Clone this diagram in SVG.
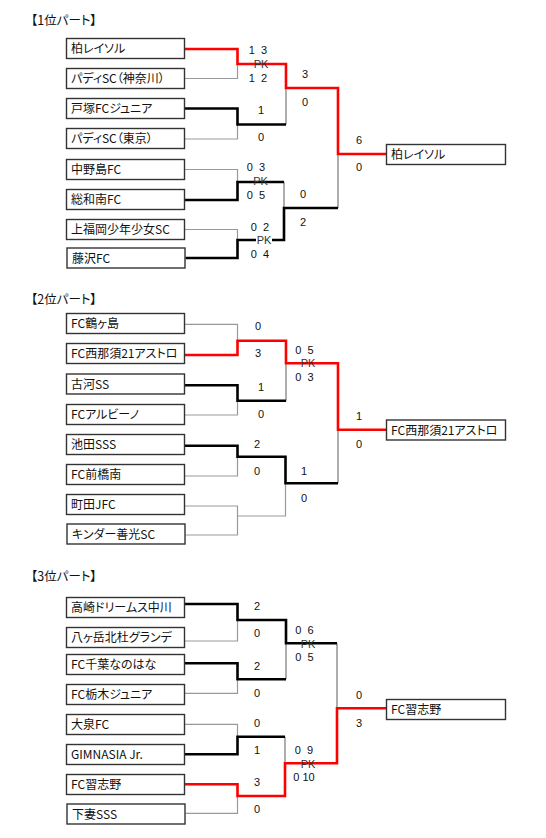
<svg xmlns="http://www.w3.org/2000/svg" width="546" height="838" viewBox="0 0 546 838">
<style>
text{font-family:"Noto Sans CJK JP","Noto Sans",sans-serif;font-feature-settings:"palt";fill:#111}
.t{font-size:12px}
.h{font-size:12.5px}
.s,.pk{font-family:"Liberation Sans",Arial,sans-serif;font-size:11px;text-anchor:middle}
.pk{fill:#333}
rect.b{fill:#fff;stroke:#333;stroke-width:1.4}
path{fill:none}
.r{stroke:#f00;stroke-width:2.6}
.k{stroke:#000;stroke-width:2.6}
.g{stroke:#999;stroke-width:1.2}
.g2{stroke:#777;stroke-width:1.2}
</style>
<rect width="546" height="838" fill="#fff"/>

<g id="connectors">
<!-- section 1 -->
<path class="g" d="M184,78.5H237.5V64"/>
<path class="g" d="M184,139H237.5V124.5"/>
<path class="g2" d="M286,124.5V88"/>
<path class="g" d="M184,169.5H237.5V182"/>
<path class="g" d="M184,229.5H237.5V240"/>
<path class="g2" d="M284,182V208"/>
<path class="g2" d="M338,208V154"/>
<path class="k" d="M184,108.5H237.5V124.5H286"/>
<path class="k" d="M184,200H237.5V182H284"/>
<path class="k" d="M185.5,258H237.5V240H284V208H338"/>
<path class="r" d="M184,49H237.5V64H286V88H338V154H386"/>
<!-- section 2 -->
<path class="g" d="M184,324.3H237.5V340.7"/>
<path class="g" d="M184,415H237.5V400.7"/>
<path class="g2" d="M286,400.7V363.3"/>
<path class="g" d="M184,476H237.5V456.7"/>
<path class="g" d="M184,506H237.5V516H285.5V483.3"/>
<path class="g" d="M185.5,535H237.5V516"/>
<path class="g2" d="M338,483.3V429.7"/>
<path class="k" d="M184,385.3H237.5V400.7H286"/>
<path class="k" d="M184,445.7H237.5V456.7H285.5V483.3H338"/>
<path class="r" d="M184,355H237.5V340.7H286V363.3H338V429.7H386"/>
<!-- section 3 -->
<path class="g" d="M184,641H237.5V620"/>
<path class="g" d="M184,693.3H237.5V679.3"/>
<path class="g2" d="M286,679.3V643.3"/>
<path class="g2" d="M337,643.3V708.3"/>
<path class="g" d="M184,724.3H237.5V736.7"/>
<path class="g2" d="M285,736.7V763.3"/>
<path class="g" d="M185.5,813.3H237.5V796"/>
<path class="k" d="M184,604H237.5V620H286V643.3H337"/>
<path class="k" d="M184,663.3H237.5V679.3H286"/>
<path class="k" d="M184,754.3H237.5V736.7H285"/>
<path class="r" d="M184,784.3H237.5V796H285V763.3H337V708.3H386"/>
</g>

<g id="titles">
<text class="h" x="31" y="25">【1位パート】</text>
<text class="h" x="31" y="304">【2位パート】</text>
<text class="h" x="31" y="581">【3位パート】</text>
</g>

<g id="section1-nodes">
<g id="n-kashiwa"><rect class="b" x="66.5" y="38.5" width="118" height="20"/><text class="t" x="71" y="53">柏レイソル</text></g>
<g id="n-buddy-kanagawa"><rect class="b" x="66.5" y="68.5" width="118" height="20"/><text class="t" x="71" y="83">パディSC（神奈川）</text></g>
<g id="n-totsuka"><rect class="b" x="66.5" y="98.5" width="118" height="20"/><text class="t" x="71" y="113">戸塚FCジュニア</text></g>
<g id="n-buddy-tokyo"><rect class="b" x="66.5" y="128.5" width="118" height="20"/><text class="t" x="71" y="143">パディSC（東京）</text></g>
<g id="n-nakanoshima"><rect class="b" x="66.5" y="159.5" width="118" height="20"/><text class="t" x="71" y="174">中野島FC</text></g>
<g id="n-sowaminami"><rect class="b" x="66.5" y="189.5" width="118" height="20"/><text class="t" x="71" y="204">総和南FC</text></g>
<g id="n-kamifukuoka"><rect class="b" x="66.5" y="219.5" width="118" height="20"/><text class="t" x="71" y="234">上福岡少年少女SC</text></g>
<g id="n-fujisawa"><rect class="b" x="67" y="248" width="118" height="20"/><text class="t" x="72" y="262.5">藤沢FC</text></g>
<g id="n-win1"><rect class="b" x="386.5" y="144.5" width="119" height="20"/><text class="t" x="391" y="159">柏レイソル</text></g>
</g>

<g id="section2-nodes">
<g id="n-tsurugashima"><rect class="b" x="66.5" y="313.5" width="118" height="20"/><text class="t" x="71" y="328">FC鶴ヶ島</text></g>
<g id="n-nishinasu"><rect class="b" x="66.5" y="343.5" width="118" height="20"/><text class="t" x="71" y="358">FC西那須21アストロ</text></g>
<g id="n-koga"><rect class="b" x="66.5" y="374" width="118" height="20"/><text class="t" x="71" y="388.5">古河SS</text></g>
<g id="n-albino"><rect class="b" x="66.5" y="404.5" width="118" height="20"/><text class="t" x="71" y="419">FCアルビーノ</text></g>
<g id="n-ikeda"><rect class="b" x="66.5" y="434.5" width="118" height="20"/><text class="t" x="71" y="449">池田SSS</text></g>
<g id="n-maebashi"><rect class="b" x="66.5" y="464.5" width="118" height="20"/><text class="t" x="71" y="479">FC前橋南</text></g>
<g id="n-machida"><rect class="b" x="66.5" y="494.5" width="118" height="20"/><text class="t" x="71" y="509">町田JFC</text></g>
<g id="n-kinder"><rect class="b" x="67" y="524" width="118" height="20"/><text class="t" x="72" y="538.5">キンダー善光SC</text></g>
<g id="n-win2"><rect class="b" x="386.5" y="420" width="119" height="20"/><text class="t" x="391" y="434.5">FC西那須21アストロ</text></g>
</g>

<g id="section3-nodes">
<g id="n-takasaki"><rect class="b" x="66.5" y="597.5" width="118" height="20"/><text class="t" x="71" y="612">高崎ドリームス中川</text></g>
<g id="n-yatsugatake"><rect class="b" x="66.5" y="627.5" width="118" height="20"/><text class="t" x="71" y="642">八ヶ岳北杜グランデ</text></g>
<g id="n-chiba"><rect class="b" x="66.5" y="654.5" width="118" height="20"/><text class="t" x="71" y="669">FC千葉なのはな</text></g>
<g id="n-tochigi"><rect class="b" x="66.5" y="684.5" width="118" height="20"/><text class="t" x="71" y="699">FC栃木ジュニア</text></g>
<g id="n-oizumi"><rect class="b" x="66.5" y="714.5" width="118" height="20"/><text class="t" x="71" y="729">大泉FC</text></g>
<g id="n-gimnasia"><rect class="b" x="66.5" y="744.5" width="118" height="20"/><text class="t" x="71" y="759">GIMNASIA Jr.</text></g>
<g id="n-narashino"><rect class="b" x="66.5" y="774.5" width="118" height="20"/><text class="t" x="71" y="789">FC習志野</text></g>
<g id="n-shimotsuma"><rect class="b" x="67" y="804" width="118" height="20"/><text class="t" x="72" y="818.5">下妻SSS</text></g>
<g id="n-win3"><rect class="b" x="386.5" y="699.5" width="119" height="20"/><text class="t" x="391" y="714">FC習志野</text></g>
</g>

<g id="scores">
<!-- section 1 -->
<text class="s" x="258" y="54" style="word-spacing:3px">1 3</text>
<text class="pk" x="261" y="68">PK</text>
<text class="s" x="258" y="82" style="word-spacing:3px">1 2</text>
<text class="s" x="261" y="114">1</text>
<text class="s" x="261" y="141">0</text>
<text class="s" x="305" y="78">3</text>
<text class="s" x="305" y="106">0</text>
<text class="s" x="359" y="144">6</text>
<text class="s" x="359" y="171">0</text>
<text class="s" x="256" y="170.5" style="word-spacing:3px">0 3</text>
<text class="pk" x="260.5" y="185">PK</text>
<text class="s" x="256" y="198.5" style="word-spacing:3px">0 5</text>
<text class="s" x="260" y="230.5" style="word-spacing:3px">0 2</text>
<rect x="256" y="235" width="16" height="10" fill="#fff"/>
<text class="pk" x="264" y="244">PK</text>
<text class="s" x="260" y="257.5" style="word-spacing:3px">0 4</text>
<text class="s" x="303" y="198">0</text>
<text class="s" x="303" y="226">2</text>
<!-- section 2 -->
<text class="s" x="258" y="330">0</text>
<text class="s" x="258" y="357">3</text>
<text class="s" x="261" y="391">1</text>
<text class="s" x="261" y="417.5">0</text>
<text class="s" x="304.5" y="353.5" style="word-spacing:3px">0 5</text>
<text class="pk" x="308" y="367">PK</text>
<text class="s" x="304.5" y="381" style="word-spacing:3px">0 3</text>
<text class="s" x="257" y="447.5">2</text>
<text class="s" x="257" y="475">0</text>
<text class="s" x="304" y="474.5">1</text>
<text class="s" x="304" y="501.5">0</text>
<text class="s" x="359" y="420">1</text>
<text class="s" x="359" y="447.5">0</text>
<!-- section 3 -->
<text class="s" x="257" y="610">2</text>
<text class="s" x="257" y="637">0</text>
<text class="s" x="257" y="670">2</text>
<text class="s" x="257" y="697">0</text>
<text class="s" x="304.5" y="633.5" style="word-spacing:3px">0 6</text>
<text class="pk" x="308" y="647.5">PK</text>
<text class="s" x="304.5" y="661" style="word-spacing:3px">0 5</text>
<text class="s" x="257" y="727">0</text>
<text class="s" x="257" y="754">1</text>
<text class="s" x="257" y="786">3</text>
<text class="s" x="257" y="813">0</text>
<text class="s" x="304" y="753.5" style="word-spacing:3px">0 9</text>
<text class="pk" x="308" y="767.5">PK</text>
<text class="s" x="304" y="781">0 10</text>
<text class="s" x="359" y="699">0</text>
<text class="s" x="359" y="727">3</text>
</g>
</svg>
